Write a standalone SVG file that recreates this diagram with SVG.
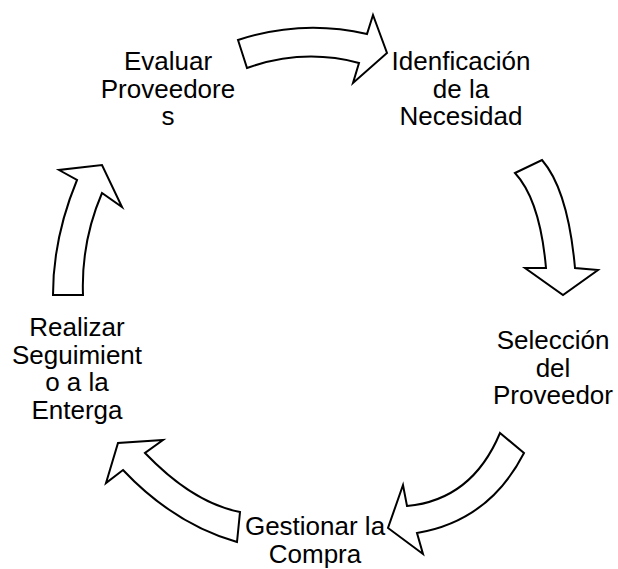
<svg xmlns="http://www.w3.org/2000/svg" width="618" height="569" viewBox="0 0 618 569">
  <style>
    .arrow { fill: #ffffff; stroke: #000000; stroke-width: 2; stroke-linejoin: miter; }
    .label { font-family: "Liberation Sans", Arial, sans-serif; font-size: 26px; fill: #000000; text-anchor: middle; }
  </style>
  <rect width="618" height="569" fill="#ffffff"/>

  <!-- curved block arrows forming the cycle -->
  <g id="connectors">
    <path class="arrow" d="M238,40 Q302,19 367,34 L373,15 L387,53 L353,83 L359,63 Q303,48 247,68 Z"/>
    <path class="arrow" d="M515,173 L542,160 Q568,190 575,268 L598,270 L563,295 L525,268 L546,268 Q540,200 515,173 Z"/>
    <path class="arrow" d="M500,433 L524,453 Q489,521 417,533 L423,554 L388,528 L403,485 L407,506 Q472,500 500,433 Z"/>
    <path class="arrow" d="M237,542 L240,512 Q193,503 145,453 L163,440 L118,443 L106,483 L123,470 Q174,524 237,542 Z"/>
    <path class="arrow" d="M53,295 L83,295 Q81,242 102,193 L122,207 L102,165 L59,170 L77,180 Q53,238 53,295 Z"/>
  </g>

  <g id="node-necesidad">
    <text class="label" x="461" y="70">Idenficación</text>
    <text class="label" x="461" y="97.5">de la</text>
    <text class="label" x="461" y="125">Necesidad</text>
  </g>

  <g id="node-seleccion">
    <text class="label" x="553" y="349">Selección</text>
    <text class="label" x="553" y="376.5">del</text>
    <text class="label" x="553" y="404">Proveedor</text>
  </g>

  <g id="node-compra">
    <text class="label" x="315" y="535">Gestionar la</text>
    <text class="label" x="315" y="562.5">Compra</text>
  </g>

  <g id="node-seguimiento">
    <text class="label" x="77" y="336">Realizar</text>
    <text class="label" x="77" y="363.5">Seguimient</text>
    <text class="label" x="77" y="391">o a la</text>
    <text class="label" x="77" y="418.5">Enterga</text>
  </g>

  <g id="node-evaluar">
    <text class="label" x="168" y="70">Evaluar</text>
    <text class="label" x="168" y="97.5">Proveedore</text>
    <text class="label" x="168" y="125">s</text>
  </g>
</svg>
